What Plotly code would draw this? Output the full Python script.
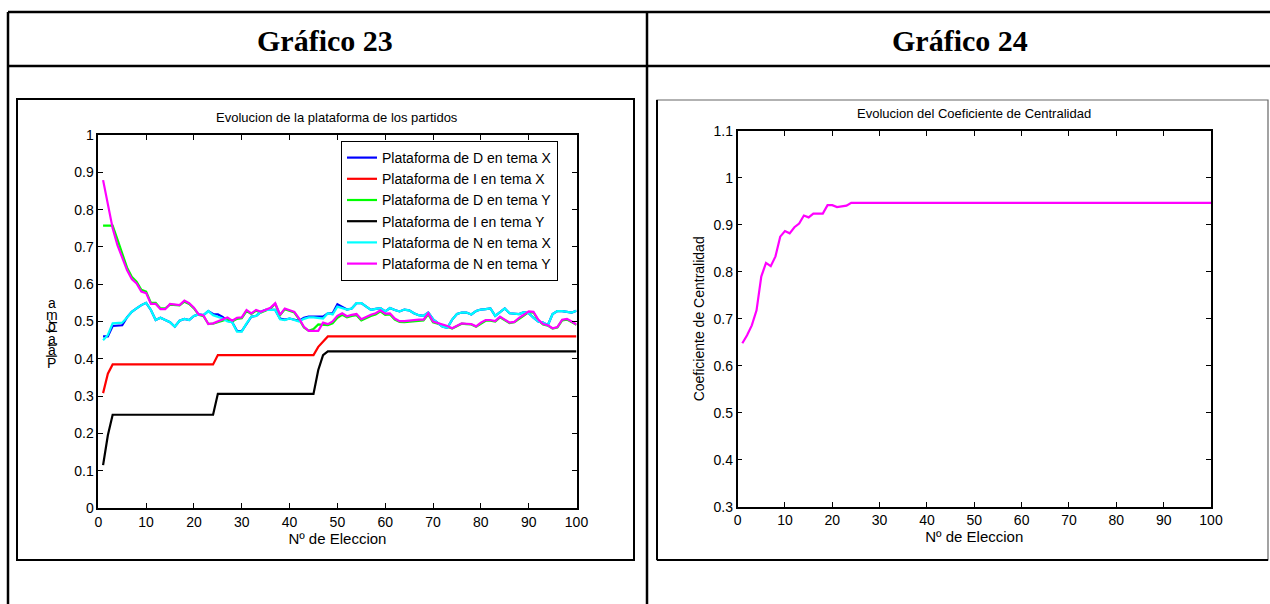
import plotly.graph_objects as go

W, H = 1270, 604

elecciones = list(range(1, 101))

# Gráfico 23 series
d_tema_x = [
    0.460, 0.460, 0.488, 0.490, 0.490, 0.511, 0.526, 0.535, 0.544, 0.550,
    0.531, 0.504, 0.510, 0.504, 0.498, 0.486, 0.502, 0.507, 0.504, 0.515,
    0.519, 0.517, 0.528, 0.520, 0.519, 0.512, 0.502, 0.498, 0.475, 0.474,
    0.495, 0.513, 0.515, 0.526, 0.531, 0.531, 0.531, 0.508, 0.505, 0.508,
    0.505, 0.502, 0.510, 0.513, 0.513, 0.514, 0.513, 0.522, 0.522, 0.546,
    0.540, 0.532, 0.535, 0.549, 0.549, 0.540, 0.531, 0.534, 0.536, 0.527,
    0.536, 0.531, 0.527, 0.532, 0.530, 0.522, 0.517, 0.515, 0.524, 0.506,
    0.495, 0.486, 0.483, 0.505, 0.520, 0.524, 0.524, 0.519, 0.528, 0.532,
    0.533, 0.535, 0.515, 0.525, 0.535, 0.522, 0.520, 0.520, 0.525, 0.522,
    0.510, 0.500, 0.497, 0.490, 0.520, 0.528, 0.528, 0.526, 0.524, 0.529,
]
i_tema_x = [
    0.308, 0.360, 0.385, 0.385, 0.385, 0.385, 0.385, 0.385, 0.385, 0.385,
    0.385, 0.385, 0.385, 0.385, 0.385, 0.385, 0.385, 0.385, 0.385, 0.385,
    0.385, 0.385, 0.385, 0.385, 0.410, 0.410, 0.410, 0.410, 0.410, 0.410,
    0.410, 0.410, 0.410, 0.410, 0.410, 0.410, 0.410, 0.410, 0.410, 0.410,
    0.410, 0.410, 0.410, 0.410, 0.410, 0.432, 0.445, 0.460, 0.460, 0.460,
    0.460, 0.460, 0.460, 0.460, 0.460, 0.460, 0.460, 0.460, 0.460, 0.460,
    0.460, 0.460, 0.460, 0.460, 0.460, 0.460, 0.460, 0.460, 0.460, 0.460,
    0.460, 0.460, 0.460, 0.460, 0.460, 0.460, 0.460, 0.460, 0.460, 0.460,
    0.460, 0.460, 0.460, 0.460, 0.460, 0.460, 0.460, 0.460, 0.460, 0.460,
    0.460, 0.460, 0.460, 0.460, 0.460, 0.460, 0.460, 0.460, 0.460, 0.460,
]
d_tema_y = [
    0.757, 0.757, 0.757, 0.720, 0.680, 0.645, 0.620, 0.607, 0.585, 0.580,
    0.550, 0.550, 0.535, 0.535, 0.545, 0.544, 0.543, 0.553, 0.547, 0.535,
    0.518, 0.514, 0.494, 0.494, 0.498, 0.502, 0.506, 0.500, 0.507, 0.509,
    0.528, 0.520, 0.529, 0.524, 0.529, 0.535, 0.547, 0.517, 0.533, 0.529,
    0.524, 0.506, 0.484, 0.475, 0.480, 0.492, 0.492, 0.490, 0.495, 0.510,
    0.518, 0.511, 0.515, 0.517, 0.503, 0.510, 0.515, 0.519, 0.527, 0.518,
    0.519, 0.505, 0.499, 0.498, 0.499, 0.502, 0.503, 0.503, 0.519, 0.498,
    0.494, 0.491, 0.486, 0.481, 0.487, 0.494, 0.493, 0.492, 0.486, 0.495,
    0.502, 0.502, 0.500, 0.511, 0.503, 0.496, 0.498, 0.508, 0.516, 0.525,
    0.524, 0.503, 0.492, 0.489, 0.481, 0.484, 0.503, 0.505, 0.499, 0.491,
]
i_tema_y = [
    0.115, 0.195, 0.250, 0.250, 0.250, 0.250, 0.250, 0.250, 0.250, 0.250,
    0.250, 0.250, 0.250, 0.250, 0.250, 0.250, 0.250, 0.250, 0.250, 0.250,
    0.250, 0.250, 0.250, 0.250, 0.306, 0.306, 0.306, 0.306, 0.306, 0.306,
    0.306, 0.306, 0.306, 0.306, 0.306, 0.306, 0.306, 0.306, 0.306, 0.306,
    0.306, 0.306, 0.306, 0.306, 0.306, 0.370, 0.410, 0.420, 0.420, 0.420,
    0.420, 0.420, 0.420, 0.420, 0.420, 0.420, 0.420, 0.420, 0.420, 0.420,
    0.420, 0.420, 0.420, 0.420, 0.420, 0.420, 0.420, 0.420, 0.420, 0.420,
    0.420, 0.420, 0.420, 0.420, 0.420, 0.420, 0.420, 0.420, 0.420, 0.420,
    0.420, 0.420, 0.420, 0.420, 0.420, 0.420, 0.420, 0.420, 0.420, 0.420,
    0.420, 0.420, 0.420, 0.420, 0.420, 0.420, 0.420, 0.420, 0.420, 0.420,
]
n_tema_x = [
    0.450, 0.464, 0.495, 0.497, 0.497, 0.511, 0.526, 0.535, 0.544, 0.550,
    0.531, 0.504, 0.510, 0.504, 0.498, 0.486, 0.502, 0.507, 0.504, 0.515,
    0.519, 0.517, 0.528, 0.517, 0.513, 0.508, 0.500, 0.498, 0.473, 0.473,
    0.495, 0.513, 0.515, 0.526, 0.531, 0.531, 0.531, 0.506, 0.504, 0.508,
    0.504, 0.500, 0.507, 0.511, 0.511, 0.510, 0.508, 0.522, 0.519, 0.540,
    0.537, 0.532, 0.535, 0.549, 0.549, 0.540, 0.531, 0.534, 0.536, 0.527,
    0.536, 0.531, 0.527, 0.532, 0.530, 0.522, 0.517, 0.515, 0.524, 0.506,
    0.495, 0.486, 0.483, 0.505, 0.520, 0.524, 0.524, 0.519, 0.528, 0.532,
    0.533, 0.535, 0.515, 0.525, 0.535, 0.522, 0.520, 0.520, 0.525, 0.522,
    0.510, 0.500, 0.497, 0.490, 0.520, 0.528, 0.528, 0.526, 0.524, 0.529,
]
n_tema_y = [
    0.879, 0.812, 0.750, 0.705, 0.669, 0.638, 0.614, 0.602, 0.580, 0.576,
    0.547, 0.547, 0.533, 0.533, 0.547, 0.546, 0.544, 0.556, 0.549, 0.537,
    0.519, 0.516, 0.493, 0.495, 0.500, 0.506, 0.511, 0.502, 0.510, 0.511,
    0.531, 0.522, 0.531, 0.526, 0.531, 0.537, 0.549, 0.518, 0.535, 0.531,
    0.526, 0.508, 0.486, 0.475, 0.475, 0.475, 0.497, 0.493, 0.500, 0.515,
    0.522, 0.514, 0.518, 0.520, 0.506, 0.513, 0.518, 0.522, 0.530, 0.521,
    0.522, 0.508, 0.501, 0.501, 0.502, 0.505, 0.505, 0.505, 0.522, 0.500,
    0.496, 0.493, 0.488, 0.482, 0.488, 0.495, 0.494, 0.493, 0.487, 0.497,
    0.504, 0.504, 0.501, 0.513, 0.505, 0.497, 0.499, 0.510, 0.518, 0.527,
    0.526, 0.505, 0.493, 0.490, 0.482, 0.485, 0.505, 0.507, 0.500, 0.492,
]

# Gráfico 24 series
coef_centralidad = [
    0.648, 0.665, 0.686, 0.718, 0.790, 0.819, 0.812, 0.833, 0.875, 0.887,
    0.882, 0.895, 0.903, 0.920, 0.916, 0.924, 0.924, 0.924, 0.942, 0.942,
    0.938, 0.940, 0.941, 0.947, 0.947, 0.947, 0.947, 0.947, 0.947, 0.947,
    0.947, 0.947, 0.947, 0.947, 0.947, 0.947, 0.947, 0.947, 0.947, 0.947,
    0.947, 0.947, 0.947, 0.947, 0.947, 0.947, 0.947, 0.947, 0.947, 0.947,
    0.947, 0.947, 0.947, 0.947, 0.947, 0.947, 0.947, 0.947, 0.947, 0.947,
    0.947, 0.947, 0.947, 0.947, 0.947, 0.947, 0.947, 0.947, 0.947, 0.947,
    0.947, 0.947, 0.947, 0.947, 0.947, 0.947, 0.947, 0.947, 0.947, 0.947,
    0.947, 0.947, 0.947, 0.947, 0.947, 0.947, 0.947, 0.947, 0.947, 0.947,
    0.947, 0.947, 0.947, 0.947, 0.947, 0.947, 0.947, 0.947, 0.947, 0.947,
]

series_names = [
    "Plataforma de D en tema X",
    "Plataforma de I en tema X",
    "Plataforma de D en tema Y",
    "Plataforma de I en tema Y",
    "Plataforma de N en tema X",
    "Plataforma de N en tema Y",
]
series_values = [d_tema_x, i_tema_x, d_tema_y, i_tema_y, n_tema_x, n_tema_y]
series_colors = ["#0000FF", "#FF0000", "#00FF00", "#000000", "#00FFFF", "#FF00FF"]

x_ticks = [0, 10, 20, 30, 40, 50, 60, 70, 80, 90, 100]
y1_ticks = [0, 0.1, 0.2, 0.3, 0.4, 0.5, 0.6, 0.7, 0.8, 0.9, 1.0]
y1_labels = ["0", "0.1", "0.2", "0.3", "0.4", "0.5", "0.6", "0.7", "0.8", "0.9", "1"]
y2_ticks = [0.3, 0.4, 0.5, 0.6, 0.7, 0.8, 0.9, 1.0, 1.1]
y2_labels = ["0.3", "0.4", "0.5", "0.6", "0.7", "0.8", "0.9", "1", "1.1"]

FONT = "Liberation Sans, Arial, sans-serif"
SERIF = "Liberation Serif, Times New Roman, serif"


def px(x):
    return x / W


def py(y):
    return 1 - y / H


fig = go.Figure()
for name, vals, col in zip(series_names, series_values, series_colors):
    fig.add_trace(go.Scatter(x=elecciones, y=vals, mode="lines", name=name,
                             line=dict(color=col, width=2.2),
                             xaxis="x", yaxis="y"))
fig.add_trace(go.Scatter(x=elecciones, y=coef_centralidad, mode="lines",
                         name="Coeficiente de Centralidad", showlegend=False,
                         line=dict(color="#FF00FF", width=2.2),
                         xaxis="x2", yaxis="y2"))

axis_common = dict(showline=True, linecolor="black", linewidth=1.5, mirror="ticks",
                   ticks="inside", ticklen=5, tickcolor="black", tickwidth=1,
                   showgrid=False, zeroline=False, automargin=False,
                   tickfont=dict(family=FONT, size=14, color="black"))

L_x0, L_x1, L_ytop, L_ybot = 98.3, 576.5, 135, 508
R_x0, R_x1, R_ytop, R_ybot = 737.6, 1211, 131, 506.6

fig.update_layout(
    width=W, height=H, autosize=False,
    margin=dict(l=0, r=0, t=0, b=0, pad=0),
    paper_bgcolor="white", plot_bgcolor="white",
    font=dict(family=FONT, color="black"),
    xaxis=dict(domain=[px(L_x0), px(L_x1)], range=[0, 100], tickvals=x_ticks,
               title=dict(text="Nº de Eleccion", font=dict(family=FONT, size=15), standoff=4),
               anchor="y", **axis_common),
    yaxis=dict(domain=[py(L_ybot), py(L_ytop)], range=[0, 1], tickvals=y1_ticks,
               ticktext=y1_labels, anchor="x", **axis_common),
    xaxis2=dict(domain=[px(R_x0), px(R_x1)], range=[0, 100], tickvals=x_ticks,
                title=dict(text="Nº de Eleccion", font=dict(family=FONT, size=15), standoff=4),
                anchor="y2", **axis_common),
    yaxis2=dict(domain=[py(R_ybot), py(R_ytop)], range=[0.3, 1.1], tickvals=y2_ticks,
                ticktext=y2_labels, anchor="x2",
                title=dict(text="Coeficiente de Centralidad", font=dict(family=FONT, size=14), standoff=6),
                **axis_common),
    legend=dict(x=px(341), y=py(141), xanchor="left", yanchor="top",
                bgcolor="white", bordercolor="black", borderwidth=1,
                font=dict(family=FONT, size=14, color="black"),
                tracegroupgap=0, itemwidth=30),
    showlegend=True,
)

shapes = []
lw = 2.5
# table lines
shapes.append(dict(type="line", xref="paper", yref="paper", x0=px(8), x1=px(1272), y0=py(12), y1=py(12), line=dict(color="black", width=lw)))
shapes.append(dict(type="line", xref="paper", yref="paper", x0=px(8), x1=px(1272), y0=py(66), y1=py(66), line=dict(color="black", width=lw)))
shapes.append(dict(type="line", xref="paper", yref="paper", x0=px(8), x1=px(8), y0=py(12), y1=py(606), line=dict(color="black", width=lw)))
shapes.append(dict(type="line", xref="paper", yref="paper", x0=px(647), x1=px(647), y0=py(12), y1=py(606), line=dict(color="black", width=lw)))
# figure boxes
shapes.append(dict(type="rect", xref="paper", yref="paper", x0=px(17), x1=px(634), y0=py(560), y1=py(99), line=dict(color="black", width=2)))
shapes.append(dict(type="rect", xref="paper", yref="paper", x0=px(657), x1=px(1268), y0=py(560), y1=py(100), line=dict(color="#666666", width=1.2)))
shapes.append(dict(type="line", xref="paper", yref="paper", x0=px(657), x1=px(657), y0=py(560), y1=py(100), line=dict(color="black", width=2)))
shapes.append(dict(type="line", xref="paper", yref="paper", x0=px(657), x1=px(1268), y0=py(560), y1=py(560), line=dict(color="black", width=2)))
fig.update_layout(shapes=shapes)

ann = []
ann.append(dict(text="<b>Gráfico 23</b>", x=px(325), y=py(40), xref="paper", yref="paper",
                xanchor="center", yanchor="middle",
                showarrow=False, font=dict(family=SERIF, size=30, color="black")))
ann.append(dict(text="<b>Gráfico 24</b>", x=px(960), y=py(40), xref="paper", yref="paper",
                xanchor="center", yanchor="middle",
                showarrow=False, font=dict(family=SERIF, size=30, color="black")))
ann.append(dict(text="Evolucion de la plataforma de los partidos", x=px((L_x0 + L_x1) / 2), y=py(117),
                xref="paper", yref="paper", xanchor="center", yanchor="middle",
                showarrow=False, font=dict(family=FONT, size=13)))
ann.append(dict(text="Evolucion del Coeficiente de Centralidad", x=px((R_x0 + R_x1) / 2), y=py(113),
                xref="paper", yref="paper", xanchor="center", yanchor="middle",
                showarrow=False, font=dict(family=FONT, size=13)))
# garbled vertical y label of Gráfico 23 ("Plataforma" letters stacked)
label_chars = [("a", 302.7, 0), ("m", 315, 0), ("r", 321.5, -90), ("o", 326, 0), ("f", 331.5, -90),
               ("a", 339, 0), ("t", 345, -90), ("a", 350, 0), ("l", 356, -90), ("P", 362.7, 0)]
for ch, yy, ang in label_chars:
    ann.append(dict(text=ch, x=px(51.7), y=py(yy), xref="paper", yref="paper", showarrow=False,
                    xanchor="center", yanchor="middle",
                    textangle=ang, font=dict(family=FONT, size=14, color="black")))
fig.update_layout(annotations=ann)

fig.write_html("out.html", config={"displayModeBar": False},
               post_script="document.body.style.margin='0';document.body.style.overflow='hidden';")
